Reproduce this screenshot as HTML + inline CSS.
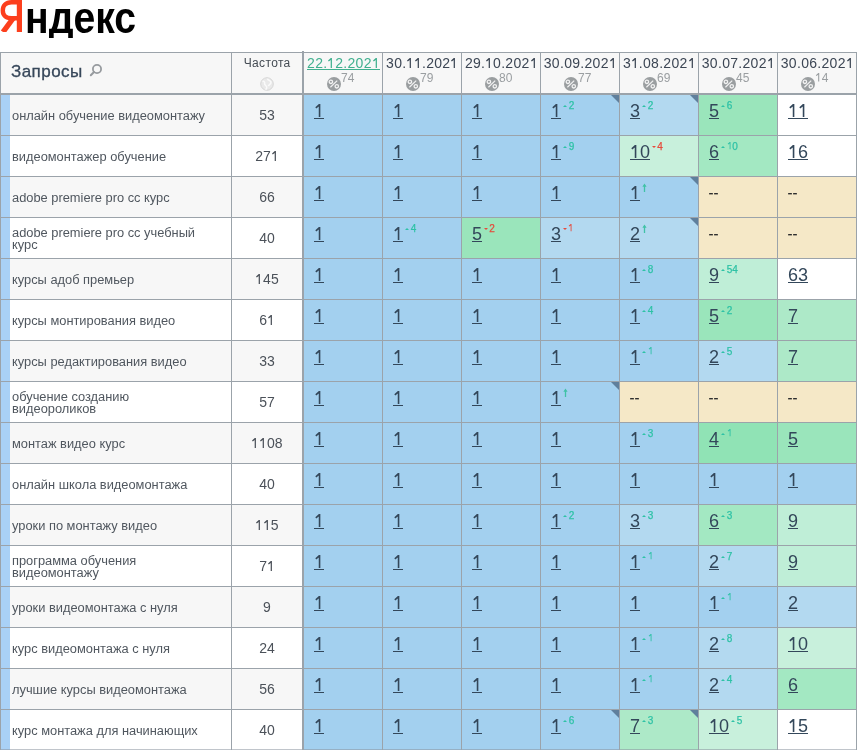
<!DOCTYPE html>
<html><head><meta charset="utf-8">
<style>
*{margin:0;padding:0;box-sizing:border-box}
html,body{width:857px;height:750px;overflow:hidden;background:#fff}
body{position:relative;font-family:"Liberation Sans",sans-serif;color:#3b4550}
#w{position:absolute;left:0;top:0;width:857px;height:750px;will-change:transform}
.a{position:absolute}
.logo{position:absolute;left:24.5px;top:-7.5px;height:45px;overflow:hidden;font-weight:bold;font-size:44px;line-height:50px;white-space:nowrap;color:#000}
.hl{position:absolute;background:#9ba3aa}
.q{position:absolute;left:12px;font-size:12.85px;line-height:11.5px;color:#50575f;white-space:nowrap}
.f{position:absolute;font-size:14px;line-height:16px;text-align:center;color:#4b5159}
.c{position:absolute}
.in{position:absolute;left:10px;top:6px;height:20px;white-space:nowrap;font-size:18px;line-height:20px}
.n{color:#33475a;position:relative;display:inline-block}
.n::after{content:"";position:absolute;left:0;right:0;top:17px;height:1px;background:currentColor}
.o{vertical-align:baseline;overflow:visible}
.du{color:#40b08f;position:relative;display:inline-block}
.du::after{content:"";position:absolute;left:0;right:0;top:14px;height:1px;background:currentColor}
.s{display:inline-block;vertical-align:top;position:relative;top:-0.4px;margin-left:2.3px;font-size:10px;-webkit-text-stroke:0.25px currentColor;line-height:10px}
.tu{display:inline-block;width:0;height:0;border-left:2px solid transparent;border-right:2px solid transparent;border-bottom:2.5px solid #2ec2a6;margin-right:1.4px;vertical-align:1.6px}
.td{display:inline-block;width:0;height:0;border-left:2px solid transparent;border-right:2px solid transparent;border-top:2.5px solid #e64b3c;margin-right:1px;vertical-align:1.4px}
.ar{display:inline-block;vertical-align:top;position:relative;top:0px;margin-left:2px}
.up{color:#2ec2a6}
.dn{color:#e64b3c}
.dash{position:absolute;left:9.5px;top:6px;font-size:15px;line-height:20px;color:#2e2e2e;-webkit-text-stroke:0.2px #2e2e2e}
.tri{position:absolute;right:0;top:0;width:0;height:0;border-top:8px solid #5f7f9c;border-left:8px solid transparent}
.dh{position:absolute;top:55px;font-size:14px;line-height:16px;color:#3c4654;text-align:center;white-space:nowrap;letter-spacing:0.3px;text-indent:0.3px}
.pc{position:absolute;width:14px;height:14px;border-radius:50%;background:#9a9ea0}
.ps{position:absolute;font-size:12px;line-height:12px;color:#9a9ea1}
</style></head><body><div id="w">

<svg class="a" style="left:0;top:0" width="23" height="32" viewBox="0 0 23 32"><rect x="16.8" y="0" width="5.2" height="32" fill="#fc3f1d"/><path d="M17.5 2.2H11.5C5.8 2.2 2.8 5.6 2.8 10.4C2.8 15.2 5.8 18.2 11.5 18.2H17.5" fill="none" stroke="#fc3f1d" stroke-width="4.4"/><path d="M13 18.5L3 32" stroke="#fc3f1d" stroke-width="5.4" stroke-linecap="butt"/></svg>
<div class="logo"><span style="display:inline-block;transform:scaleX(0.89);transform-origin:0 0">ндекс</span></div>
<div class="a" style="left:0;top:52px;width:857px;height:42px;background:#f7f7f7"></div>
<div class="a" style="left:0;top:95px;width:302px;height:40px;background:#f7f7f7"></div>
<div class="a" style="left:0;top:136px;width:302px;height:40px;background:#fff"></div>
<div class="a" style="left:0;top:177px;width:302px;height:40px;background:#f7f7f7"></div>
<div class="a" style="left:0;top:218px;width:302px;height:40px;background:#fff"></div>
<div class="a" style="left:0;top:259px;width:302px;height:40px;background:#f7f7f7"></div>
<div class="a" style="left:0;top:300px;width:302px;height:40px;background:#fff"></div>
<div class="a" style="left:0;top:341px;width:302px;height:40px;background:#f7f7f7"></div>
<div class="a" style="left:0;top:382px;width:302px;height:40px;background:#fff"></div>
<div class="a" style="left:0;top:423px;width:302px;height:40px;background:#f7f7f7"></div>
<div class="a" style="left:0;top:464px;width:302px;height:40px;background:#fff"></div>
<div class="a" style="left:0;top:505px;width:302px;height:40px;background:#f7f7f7"></div>
<div class="a" style="left:0;top:546px;width:302px;height:40px;background:#fff"></div>
<div class="a" style="left:0;top:587px;width:302px;height:40px;background:#f7f7f7"></div>
<div class="a" style="left:0;top:628px;width:302px;height:40px;background:#fff"></div>
<div class="a" style="left:0;top:669px;width:302px;height:40px;background:#f7f7f7"></div>
<div class="a" style="left:0;top:710px;width:302px;height:40px;background:#fff"></div>
<div class="c" style="left:304px;top:95px;width:78px;height:40px;background:#a3d0ef"><div class="in"><span class="n"><svg class="o" width="10.01" height="12.89" viewBox="0 0 10 12.9" preserveAspectRatio="none"><path d="M6.35 0V12.9H4.75V2.5L2.3 4.6L1.3 3.2L4.9 0Z" fill="currentColor"/></svg></span></div></div>
<div class="c" style="left:383px;top:95px;width:78px;height:40px;background:#a3d0ef"><div class="in"><span class="n"><svg class="o" width="10.01" height="12.89" viewBox="0 0 10 12.9" preserveAspectRatio="none"><path d="M6.35 0V12.9H4.75V2.5L2.3 4.6L1.3 3.2L4.9 0Z" fill="currentColor"/></svg></span></div></div>
<div class="c" style="left:462px;top:95px;width:78px;height:40px;background:#a3d0ef"><div class="in"><span class="n"><svg class="o" width="10.01" height="12.89" viewBox="0 0 10 12.9" preserveAspectRatio="none"><path d="M6.35 0V12.9H4.75V2.5L2.3 4.6L1.3 3.2L4.9 0Z" fill="currentColor"/></svg></span></div></div>
<div class="c" style="left:541px;top:95px;width:78px;height:40px;background:#a3d0ef"><div class="in"><span class="n"><svg class="o" width="10.01" height="12.89" viewBox="0 0 10 12.9" preserveAspectRatio="none"><path d="M6.35 0V12.9H4.75V2.5L2.3 4.6L1.3 3.2L4.9 0Z" fill="currentColor"/></svg></span><span class="s up"><i class="tu"></i>2</span></div><span class="tri"></span></div>
<div class="c" style="left:620px;top:95px;width:78px;height:40px;background:#b3d9f0"><div class="in"><span class="n">3</span><span class="s up"><i class="tu"></i>2</span></div><span class="tri"></span></div>
<div class="c" style="left:699px;top:95px;width:78px;height:40px;background:#9ae5bb"><div class="in"><span class="n">5</span><span class="s up"><i class="tu"></i>6</span></div></div>
<div class="c" style="left:778px;top:95px;width:78px;height:40px;background:#ffffff"><div class="in"><span class="n"><svg class="o" width="10.01" height="12.89" viewBox="0 0 10 12.9" preserveAspectRatio="none"><path d="M6.35 0V12.9H4.75V2.5L2.3 4.6L1.3 3.2L4.9 0Z" fill="currentColor"/></svg><svg class="o" width="10.01" height="12.89" viewBox="0 0 10 12.9" preserveAspectRatio="none"><path d="M6.35 0V12.9H4.75V2.5L2.3 4.6L1.3 3.2L4.9 0Z" fill="currentColor"/></svg></span></div></div>
<div class="q" style="top:109.5px">онлайн обучение видеомонтажу</div>
<div class="f" style="left:232px;width:70px;top:107px">53</div>
<div class="a" style="left:1px;top:95px;width:9px;height:40px;background:#a9d1f6"></div>
<div class="c" style="left:304px;top:136px;width:78px;height:40px;background:#a3d0ef"><div class="in"><span class="n"><svg class="o" width="10.01" height="12.89" viewBox="0 0 10 12.9" preserveAspectRatio="none"><path d="M6.35 0V12.9H4.75V2.5L2.3 4.6L1.3 3.2L4.9 0Z" fill="currentColor"/></svg></span></div></div>
<div class="c" style="left:383px;top:136px;width:78px;height:40px;background:#a3d0ef"><div class="in"><span class="n"><svg class="o" width="10.01" height="12.89" viewBox="0 0 10 12.9" preserveAspectRatio="none"><path d="M6.35 0V12.9H4.75V2.5L2.3 4.6L1.3 3.2L4.9 0Z" fill="currentColor"/></svg></span></div></div>
<div class="c" style="left:462px;top:136px;width:78px;height:40px;background:#a3d0ef"><div class="in"><span class="n"><svg class="o" width="10.01" height="12.89" viewBox="0 0 10 12.9" preserveAspectRatio="none"><path d="M6.35 0V12.9H4.75V2.5L2.3 4.6L1.3 3.2L4.9 0Z" fill="currentColor"/></svg></span></div></div>
<div class="c" style="left:541px;top:136px;width:78px;height:40px;background:#a3d0ef"><div class="in"><span class="n"><svg class="o" width="10.01" height="12.89" viewBox="0 0 10 12.9" preserveAspectRatio="none"><path d="M6.35 0V12.9H4.75V2.5L2.3 4.6L1.3 3.2L4.9 0Z" fill="currentColor"/></svg></span><span class="s up"><i class="tu"></i>9</span></div></div>
<div class="c" style="left:620px;top:136px;width:78px;height:40px;background:#c8f0dc"><div class="in"><span class="n"><svg class="o" width="10.01" height="12.89" viewBox="0 0 10 12.9" preserveAspectRatio="none"><path d="M6.35 0V12.9H4.75V2.5L2.3 4.6L1.3 3.2L4.9 0Z" fill="currentColor"/></svg>0</span><span class="s dn"><i class="td"></i>4</span></div></div>
<div class="c" style="left:699px;top:136px;width:78px;height:40px;background:#a3e8c2"><div class="in"><span class="n">6</span><span class="s up"><i class="tu"></i><svg class="o" width="5.56" height="7.16" viewBox="0 0 10 12.9" preserveAspectRatio="none"><path d="M6.35 0V12.9H4.75V2.5L2.3 4.6L1.3 3.2L4.9 0Z" fill="currentColor"/></svg>0</span></div></div>
<div class="c" style="left:778px;top:136px;width:78px;height:40px;background:#ffffff"><div class="in"><span class="n"><svg class="o" width="10.01" height="12.89" viewBox="0 0 10 12.9" preserveAspectRatio="none"><path d="M6.35 0V12.9H4.75V2.5L2.3 4.6L1.3 3.2L4.9 0Z" fill="currentColor"/></svg>6</span></div></div>
<div class="q" style="top:150.5px">видеомонтажер обучение</div>
<div class="f" style="left:232px;width:70px;top:148px">27<svg class="o" width="7.78" height="10.02" viewBox="0 0 10 12.9" preserveAspectRatio="none"><path d="M6.35 0V12.9H4.75V2.5L2.3 4.6L1.3 3.2L4.9 0Z" fill="currentColor"/></svg></div>
<div class="a" style="left:1px;top:136px;width:9px;height:40px;background:#a9d1f6"></div>
<div class="c" style="left:304px;top:177px;width:78px;height:40px;background:#a3d0ef"><div class="in"><span class="n"><svg class="o" width="10.01" height="12.89" viewBox="0 0 10 12.9" preserveAspectRatio="none"><path d="M6.35 0V12.9H4.75V2.5L2.3 4.6L1.3 3.2L4.9 0Z" fill="currentColor"/></svg></span></div></div>
<div class="c" style="left:383px;top:177px;width:78px;height:40px;background:#a3d0ef"><div class="in"><span class="n"><svg class="o" width="10.01" height="12.89" viewBox="0 0 10 12.9" preserveAspectRatio="none"><path d="M6.35 0V12.9H4.75V2.5L2.3 4.6L1.3 3.2L4.9 0Z" fill="currentColor"/></svg></span></div></div>
<div class="c" style="left:462px;top:177px;width:78px;height:40px;background:#a3d0ef"><div class="in"><span class="n"><svg class="o" width="10.01" height="12.89" viewBox="0 0 10 12.9" preserveAspectRatio="none"><path d="M6.35 0V12.9H4.75V2.5L2.3 4.6L1.3 3.2L4.9 0Z" fill="currentColor"/></svg></span></div></div>
<div class="c" style="left:541px;top:177px;width:78px;height:40px;background:#a3d0ef"><div class="in"><span class="n"><svg class="o" width="10.01" height="12.89" viewBox="0 0 10 12.9" preserveAspectRatio="none"><path d="M6.35 0V12.9H4.75V2.5L2.3 4.6L1.3 3.2L4.9 0Z" fill="currentColor"/></svg></span></div></div>
<div class="c" style="left:620px;top:177px;width:78px;height:40px;background:#a3d0ef"><div class="in"><span class="n"><svg class="o" width="10.01" height="12.89" viewBox="0 0 10 12.9" preserveAspectRatio="none"><path d="M6.35 0V12.9H4.75V2.5L2.3 4.6L1.3 3.2L4.9 0Z" fill="currentColor"/></svg></span><svg class="ar" width="5" height="9" viewBox="0 0 5 9"><path d="M2.5 2V9" stroke="#40c2a6" stroke-width="1.3"/><path d="M0.4 3.8L2.5 0.6L4.6 3.8Z" fill="#40c2a6"/></svg></div><span class="tri"></span></div>
<div class="c" style="left:699px;top:177px;width:78px;height:40px;background:#f5e8c7"><span class="dash">--</span></div>
<div class="c" style="left:778px;top:177px;width:78px;height:40px;background:#f5e8c7"><span class="dash">--</span></div>
<div class="q" style="top:191.5px">adobe premiere pro cc курс</div>
<div class="f" style="left:232px;width:70px;top:189px">66</div>
<div class="a" style="left:1px;top:177px;width:9px;height:40px;background:#a9d1f6"></div>
<div class="c" style="left:304px;top:218px;width:78px;height:40px;background:#a3d0ef"><div class="in"><span class="n"><svg class="o" width="10.01" height="12.89" viewBox="0 0 10 12.9" preserveAspectRatio="none"><path d="M6.35 0V12.9H4.75V2.5L2.3 4.6L1.3 3.2L4.9 0Z" fill="currentColor"/></svg></span></div></div>
<div class="c" style="left:383px;top:218px;width:78px;height:40px;background:#a3d0ef"><div class="in"><span class="n"><svg class="o" width="10.01" height="12.89" viewBox="0 0 10 12.9" preserveAspectRatio="none"><path d="M6.35 0V12.9H4.75V2.5L2.3 4.6L1.3 3.2L4.9 0Z" fill="currentColor"/></svg></span><span class="s up"><i class="tu"></i>4</span></div></div>
<div class="c" style="left:462px;top:218px;width:78px;height:40px;background:#9ae5bb"><div class="in"><span class="n">5</span><span class="s dn"><i class="td"></i>2</span></div></div>
<div class="c" style="left:541px;top:218px;width:78px;height:40px;background:#b3d9f0"><div class="in"><span class="n">3</span><span class="s dn"><i class="td"></i><svg class="o" width="5.56" height="7.16" viewBox="0 0 10 12.9" preserveAspectRatio="none"><path d="M6.35 0V12.9H4.75V2.5L2.3 4.6L1.3 3.2L4.9 0Z" fill="currentColor"/></svg></span></div></div>
<div class="c" style="left:620px;top:218px;width:78px;height:40px;background:#b3d9f0"><div class="in"><span class="n">2</span><svg class="ar" width="5" height="9" viewBox="0 0 5 9"><path d="M2.5 2V9" stroke="#40c2a6" stroke-width="1.3"/><path d="M0.4 3.8L2.5 0.6L4.6 3.8Z" fill="#40c2a6"/></svg></div><span class="tri"></span></div>
<div class="c" style="left:699px;top:218px;width:78px;height:40px;background:#f5e8c7"><span class="dash">--</span></div>
<div class="c" style="left:778px;top:218px;width:78px;height:40px;background:#f5e8c7"><span class="dash">--</span></div>
<div class="q" style="top:227.3px">adobe premiere pro cc учебный<br>курс</div>
<div class="f" style="left:232px;width:70px;top:230px">40</div>
<div class="a" style="left:1px;top:218px;width:9px;height:40px;background:#a9d1f6"></div>
<div class="c" style="left:304px;top:259px;width:78px;height:40px;background:#a3d0ef"><div class="in"><span class="n"><svg class="o" width="10.01" height="12.89" viewBox="0 0 10 12.9" preserveAspectRatio="none"><path d="M6.35 0V12.9H4.75V2.5L2.3 4.6L1.3 3.2L4.9 0Z" fill="currentColor"/></svg></span></div></div>
<div class="c" style="left:383px;top:259px;width:78px;height:40px;background:#a3d0ef"><div class="in"><span class="n"><svg class="o" width="10.01" height="12.89" viewBox="0 0 10 12.9" preserveAspectRatio="none"><path d="M6.35 0V12.9H4.75V2.5L2.3 4.6L1.3 3.2L4.9 0Z" fill="currentColor"/></svg></span></div></div>
<div class="c" style="left:462px;top:259px;width:78px;height:40px;background:#a3d0ef"><div class="in"><span class="n"><svg class="o" width="10.01" height="12.89" viewBox="0 0 10 12.9" preserveAspectRatio="none"><path d="M6.35 0V12.9H4.75V2.5L2.3 4.6L1.3 3.2L4.9 0Z" fill="currentColor"/></svg></span></div></div>
<div class="c" style="left:541px;top:259px;width:78px;height:40px;background:#a3d0ef"><div class="in"><span class="n"><svg class="o" width="10.01" height="12.89" viewBox="0 0 10 12.9" preserveAspectRatio="none"><path d="M6.35 0V12.9H4.75V2.5L2.3 4.6L1.3 3.2L4.9 0Z" fill="currentColor"/></svg></span></div></div>
<div class="c" style="left:620px;top:259px;width:78px;height:40px;background:#a3d0ef"><div class="in"><span class="n"><svg class="o" width="10.01" height="12.89" viewBox="0 0 10 12.9" preserveAspectRatio="none"><path d="M6.35 0V12.9H4.75V2.5L2.3 4.6L1.3 3.2L4.9 0Z" fill="currentColor"/></svg></span><span class="s up"><i class="tu"></i>8</span></div></div>
<div class="c" style="left:699px;top:259px;width:78px;height:40px;background:#bfeed7"><div class="in"><span class="n">9</span><span class="s up"><i class="tu"></i>54</span></div></div>
<div class="c" style="left:778px;top:259px;width:78px;height:40px;background:#ffffff"><div class="in"><span class="n">63</span></div></div>
<div class="q" style="top:273.5px">курсы адоб премьер</div>
<div class="f" style="left:232px;width:70px;top:271px"><svg class="o" width="7.78" height="10.02" viewBox="0 0 10 12.9" preserveAspectRatio="none"><path d="M6.35 0V12.9H4.75V2.5L2.3 4.6L1.3 3.2L4.9 0Z" fill="currentColor"/></svg>45</div>
<div class="a" style="left:1px;top:259px;width:9px;height:40px;background:#a9d1f6"></div>
<div class="c" style="left:304px;top:300px;width:78px;height:40px;background:#a3d0ef"><div class="in"><span class="n"><svg class="o" width="10.01" height="12.89" viewBox="0 0 10 12.9" preserveAspectRatio="none"><path d="M6.35 0V12.9H4.75V2.5L2.3 4.6L1.3 3.2L4.9 0Z" fill="currentColor"/></svg></span></div></div>
<div class="c" style="left:383px;top:300px;width:78px;height:40px;background:#a3d0ef"><div class="in"><span class="n"><svg class="o" width="10.01" height="12.89" viewBox="0 0 10 12.9" preserveAspectRatio="none"><path d="M6.35 0V12.9H4.75V2.5L2.3 4.6L1.3 3.2L4.9 0Z" fill="currentColor"/></svg></span></div></div>
<div class="c" style="left:462px;top:300px;width:78px;height:40px;background:#a3d0ef"><div class="in"><span class="n"><svg class="o" width="10.01" height="12.89" viewBox="0 0 10 12.9" preserveAspectRatio="none"><path d="M6.35 0V12.9H4.75V2.5L2.3 4.6L1.3 3.2L4.9 0Z" fill="currentColor"/></svg></span></div></div>
<div class="c" style="left:541px;top:300px;width:78px;height:40px;background:#a3d0ef"><div class="in"><span class="n"><svg class="o" width="10.01" height="12.89" viewBox="0 0 10 12.9" preserveAspectRatio="none"><path d="M6.35 0V12.9H4.75V2.5L2.3 4.6L1.3 3.2L4.9 0Z" fill="currentColor"/></svg></span></div></div>
<div class="c" style="left:620px;top:300px;width:78px;height:40px;background:#a3d0ef"><div class="in"><span class="n"><svg class="o" width="10.01" height="12.89" viewBox="0 0 10 12.9" preserveAspectRatio="none"><path d="M6.35 0V12.9H4.75V2.5L2.3 4.6L1.3 3.2L4.9 0Z" fill="currentColor"/></svg></span><span class="s up"><i class="tu"></i>4</span></div></div>
<div class="c" style="left:699px;top:300px;width:78px;height:40px;background:#9ae5bb"><div class="in"><span class="n">5</span><span class="s up"><i class="tu"></i>2</span></div></div>
<div class="c" style="left:778px;top:300px;width:78px;height:40px;background:#ade9c8"><div class="in"><span class="n">7</span></div></div>
<div class="q" style="top:314.5px">курсы монтирования видео</div>
<div class="f" style="left:232px;width:70px;top:312px">6<svg class="o" width="7.78" height="10.02" viewBox="0 0 10 12.9" preserveAspectRatio="none"><path d="M6.35 0V12.9H4.75V2.5L2.3 4.6L1.3 3.2L4.9 0Z" fill="currentColor"/></svg></div>
<div class="a" style="left:1px;top:300px;width:9px;height:40px;background:#a9d1f6"></div>
<div class="c" style="left:304px;top:341px;width:78px;height:40px;background:#a3d0ef"><div class="in"><span class="n"><svg class="o" width="10.01" height="12.89" viewBox="0 0 10 12.9" preserveAspectRatio="none"><path d="M6.35 0V12.9H4.75V2.5L2.3 4.6L1.3 3.2L4.9 0Z" fill="currentColor"/></svg></span></div></div>
<div class="c" style="left:383px;top:341px;width:78px;height:40px;background:#a3d0ef"><div class="in"><span class="n"><svg class="o" width="10.01" height="12.89" viewBox="0 0 10 12.9" preserveAspectRatio="none"><path d="M6.35 0V12.9H4.75V2.5L2.3 4.6L1.3 3.2L4.9 0Z" fill="currentColor"/></svg></span></div></div>
<div class="c" style="left:462px;top:341px;width:78px;height:40px;background:#a3d0ef"><div class="in"><span class="n"><svg class="o" width="10.01" height="12.89" viewBox="0 0 10 12.9" preserveAspectRatio="none"><path d="M6.35 0V12.9H4.75V2.5L2.3 4.6L1.3 3.2L4.9 0Z" fill="currentColor"/></svg></span></div></div>
<div class="c" style="left:541px;top:341px;width:78px;height:40px;background:#a3d0ef"><div class="in"><span class="n"><svg class="o" width="10.01" height="12.89" viewBox="0 0 10 12.9" preserveAspectRatio="none"><path d="M6.35 0V12.9H4.75V2.5L2.3 4.6L1.3 3.2L4.9 0Z" fill="currentColor"/></svg></span></div></div>
<div class="c" style="left:620px;top:341px;width:78px;height:40px;background:#a3d0ef"><div class="in"><span class="n"><svg class="o" width="10.01" height="12.89" viewBox="0 0 10 12.9" preserveAspectRatio="none"><path d="M6.35 0V12.9H4.75V2.5L2.3 4.6L1.3 3.2L4.9 0Z" fill="currentColor"/></svg></span><span class="s up"><i class="tu"></i><svg class="o" width="5.56" height="7.16" viewBox="0 0 10 12.9" preserveAspectRatio="none"><path d="M6.35 0V12.9H4.75V2.5L2.3 4.6L1.3 3.2L4.9 0Z" fill="currentColor"/></svg></span></div></div>
<div class="c" style="left:699px;top:341px;width:78px;height:40px;background:#b3d9f0"><div class="in"><span class="n">2</span><span class="s up"><i class="tu"></i>5</span></div></div>
<div class="c" style="left:778px;top:341px;width:78px;height:40px;background:#ade9c8"><div class="in"><span class="n">7</span></div></div>
<div class="q" style="top:355.5px">курсы редактирования видео</div>
<div class="f" style="left:232px;width:70px;top:353px">33</div>
<div class="a" style="left:1px;top:341px;width:9px;height:40px;background:#a9d1f6"></div>
<div class="c" style="left:304px;top:382px;width:78px;height:40px;background:#a3d0ef"><div class="in"><span class="n"><svg class="o" width="10.01" height="12.89" viewBox="0 0 10 12.9" preserveAspectRatio="none"><path d="M6.35 0V12.9H4.75V2.5L2.3 4.6L1.3 3.2L4.9 0Z" fill="currentColor"/></svg></span></div></div>
<div class="c" style="left:383px;top:382px;width:78px;height:40px;background:#a3d0ef"><div class="in"><span class="n"><svg class="o" width="10.01" height="12.89" viewBox="0 0 10 12.9" preserveAspectRatio="none"><path d="M6.35 0V12.9H4.75V2.5L2.3 4.6L1.3 3.2L4.9 0Z" fill="currentColor"/></svg></span></div></div>
<div class="c" style="left:462px;top:382px;width:78px;height:40px;background:#a3d0ef"><div class="in"><span class="n"><svg class="o" width="10.01" height="12.89" viewBox="0 0 10 12.9" preserveAspectRatio="none"><path d="M6.35 0V12.9H4.75V2.5L2.3 4.6L1.3 3.2L4.9 0Z" fill="currentColor"/></svg></span></div></div>
<div class="c" style="left:541px;top:382px;width:78px;height:40px;background:#a3d0ef"><div class="in"><span class="n"><svg class="o" width="10.01" height="12.89" viewBox="0 0 10 12.9" preserveAspectRatio="none"><path d="M6.35 0V12.9H4.75V2.5L2.3 4.6L1.3 3.2L4.9 0Z" fill="currentColor"/></svg></span><svg class="ar" width="5" height="9" viewBox="0 0 5 9"><path d="M2.5 2V9" stroke="#40c2a6" stroke-width="1.3"/><path d="M0.4 3.8L2.5 0.6L4.6 3.8Z" fill="#40c2a6"/></svg></div><span class="tri"></span></div>
<div class="c" style="left:620px;top:382px;width:78px;height:40px;background:#f5e8c7"><span class="dash">--</span></div>
<div class="c" style="left:699px;top:382px;width:78px;height:40px;background:#f5e8c7"><span class="dash">--</span></div>
<div class="c" style="left:778px;top:382px;width:78px;height:40px;background:#f5e8c7"><span class="dash">--</span></div>
<div class="q" style="top:391.3px">обучение созданию<br>видеороликов</div>
<div class="f" style="left:232px;width:70px;top:394px">57</div>
<div class="a" style="left:1px;top:382px;width:9px;height:40px;background:#a9d1f6"></div>
<div class="c" style="left:304px;top:423px;width:78px;height:40px;background:#a3d0ef"><div class="in"><span class="n"><svg class="o" width="10.01" height="12.89" viewBox="0 0 10 12.9" preserveAspectRatio="none"><path d="M6.35 0V12.9H4.75V2.5L2.3 4.6L1.3 3.2L4.9 0Z" fill="currentColor"/></svg></span></div></div>
<div class="c" style="left:383px;top:423px;width:78px;height:40px;background:#a3d0ef"><div class="in"><span class="n"><svg class="o" width="10.01" height="12.89" viewBox="0 0 10 12.9" preserveAspectRatio="none"><path d="M6.35 0V12.9H4.75V2.5L2.3 4.6L1.3 3.2L4.9 0Z" fill="currentColor"/></svg></span></div></div>
<div class="c" style="left:462px;top:423px;width:78px;height:40px;background:#a3d0ef"><div class="in"><span class="n"><svg class="o" width="10.01" height="12.89" viewBox="0 0 10 12.9" preserveAspectRatio="none"><path d="M6.35 0V12.9H4.75V2.5L2.3 4.6L1.3 3.2L4.9 0Z" fill="currentColor"/></svg></span></div></div>
<div class="c" style="left:541px;top:423px;width:78px;height:40px;background:#a3d0ef"><div class="in"><span class="n"><svg class="o" width="10.01" height="12.89" viewBox="0 0 10 12.9" preserveAspectRatio="none"><path d="M6.35 0V12.9H4.75V2.5L2.3 4.6L1.3 3.2L4.9 0Z" fill="currentColor"/></svg></span></div></div>
<div class="c" style="left:620px;top:423px;width:78px;height:40px;background:#a3d0ef"><div class="in"><span class="n"><svg class="o" width="10.01" height="12.89" viewBox="0 0 10 12.9" preserveAspectRatio="none"><path d="M6.35 0V12.9H4.75V2.5L2.3 4.6L1.3 3.2L4.9 0Z" fill="currentColor"/></svg></span><span class="s up"><i class="tu"></i>3</span></div></div>
<div class="c" style="left:699px;top:423px;width:78px;height:40px;background:#90e3b5"><div class="in"><span class="n">4</span><span class="s up"><i class="tu"></i><svg class="o" width="5.56" height="7.16" viewBox="0 0 10 12.9" preserveAspectRatio="none"><path d="M6.35 0V12.9H4.75V2.5L2.3 4.6L1.3 3.2L4.9 0Z" fill="currentColor"/></svg></span></div></div>
<div class="c" style="left:778px;top:423px;width:78px;height:40px;background:#9ae5bb"><div class="in"><span class="n">5</span></div></div>
<div class="q" style="top:437.5px">монтаж видео курс</div>
<div class="f" style="left:232px;width:70px;top:435px"><svg class="o" width="7.78" height="10.02" viewBox="0 0 10 12.9" preserveAspectRatio="none"><path d="M6.35 0V12.9H4.75V2.5L2.3 4.6L1.3 3.2L4.9 0Z" fill="currentColor"/></svg><svg class="o" width="7.78" height="10.02" viewBox="0 0 10 12.9" preserveAspectRatio="none"><path d="M6.35 0V12.9H4.75V2.5L2.3 4.6L1.3 3.2L4.9 0Z" fill="currentColor"/></svg>08</div>
<div class="a" style="left:1px;top:423px;width:9px;height:40px;background:#a9d1f6"></div>
<div class="c" style="left:304px;top:464px;width:78px;height:40px;background:#a3d0ef"><div class="in"><span class="n"><svg class="o" width="10.01" height="12.89" viewBox="0 0 10 12.9" preserveAspectRatio="none"><path d="M6.35 0V12.9H4.75V2.5L2.3 4.6L1.3 3.2L4.9 0Z" fill="currentColor"/></svg></span></div></div>
<div class="c" style="left:383px;top:464px;width:78px;height:40px;background:#a3d0ef"><div class="in"><span class="n"><svg class="o" width="10.01" height="12.89" viewBox="0 0 10 12.9" preserveAspectRatio="none"><path d="M6.35 0V12.9H4.75V2.5L2.3 4.6L1.3 3.2L4.9 0Z" fill="currentColor"/></svg></span></div></div>
<div class="c" style="left:462px;top:464px;width:78px;height:40px;background:#a3d0ef"><div class="in"><span class="n"><svg class="o" width="10.01" height="12.89" viewBox="0 0 10 12.9" preserveAspectRatio="none"><path d="M6.35 0V12.9H4.75V2.5L2.3 4.6L1.3 3.2L4.9 0Z" fill="currentColor"/></svg></span></div></div>
<div class="c" style="left:541px;top:464px;width:78px;height:40px;background:#a3d0ef"><div class="in"><span class="n"><svg class="o" width="10.01" height="12.89" viewBox="0 0 10 12.9" preserveAspectRatio="none"><path d="M6.35 0V12.9H4.75V2.5L2.3 4.6L1.3 3.2L4.9 0Z" fill="currentColor"/></svg></span></div></div>
<div class="c" style="left:620px;top:464px;width:78px;height:40px;background:#a3d0ef"><div class="in"><span class="n"><svg class="o" width="10.01" height="12.89" viewBox="0 0 10 12.9" preserveAspectRatio="none"><path d="M6.35 0V12.9H4.75V2.5L2.3 4.6L1.3 3.2L4.9 0Z" fill="currentColor"/></svg></span></div></div>
<div class="c" style="left:699px;top:464px;width:78px;height:40px;background:#a3d0ef"><div class="in"><span class="n"><svg class="o" width="10.01" height="12.89" viewBox="0 0 10 12.9" preserveAspectRatio="none"><path d="M6.35 0V12.9H4.75V2.5L2.3 4.6L1.3 3.2L4.9 0Z" fill="currentColor"/></svg></span></div></div>
<div class="c" style="left:778px;top:464px;width:78px;height:40px;background:#a3d0ef"><div class="in"><span class="n"><svg class="o" width="10.01" height="12.89" viewBox="0 0 10 12.9" preserveAspectRatio="none"><path d="M6.35 0V12.9H4.75V2.5L2.3 4.6L1.3 3.2L4.9 0Z" fill="currentColor"/></svg></span></div></div>
<div class="q" style="top:478.5px">онлайн школа видеомонтажа</div>
<div class="f" style="left:232px;width:70px;top:476px">40</div>
<div class="a" style="left:1px;top:464px;width:9px;height:40px;background:#a9d1f6"></div>
<div class="c" style="left:304px;top:505px;width:78px;height:40px;background:#a3d0ef"><div class="in"><span class="n"><svg class="o" width="10.01" height="12.89" viewBox="0 0 10 12.9" preserveAspectRatio="none"><path d="M6.35 0V12.9H4.75V2.5L2.3 4.6L1.3 3.2L4.9 0Z" fill="currentColor"/></svg></span></div></div>
<div class="c" style="left:383px;top:505px;width:78px;height:40px;background:#a3d0ef"><div class="in"><span class="n"><svg class="o" width="10.01" height="12.89" viewBox="0 0 10 12.9" preserveAspectRatio="none"><path d="M6.35 0V12.9H4.75V2.5L2.3 4.6L1.3 3.2L4.9 0Z" fill="currentColor"/></svg></span></div></div>
<div class="c" style="left:462px;top:505px;width:78px;height:40px;background:#a3d0ef"><div class="in"><span class="n"><svg class="o" width="10.01" height="12.89" viewBox="0 0 10 12.9" preserveAspectRatio="none"><path d="M6.35 0V12.9H4.75V2.5L2.3 4.6L1.3 3.2L4.9 0Z" fill="currentColor"/></svg></span></div></div>
<div class="c" style="left:541px;top:505px;width:78px;height:40px;background:#a3d0ef"><div class="in"><span class="n"><svg class="o" width="10.01" height="12.89" viewBox="0 0 10 12.9" preserveAspectRatio="none"><path d="M6.35 0V12.9H4.75V2.5L2.3 4.6L1.3 3.2L4.9 0Z" fill="currentColor"/></svg></span><span class="s up"><i class="tu"></i>2</span></div></div>
<div class="c" style="left:620px;top:505px;width:78px;height:40px;background:#b3d9f0"><div class="in"><span class="n">3</span><span class="s up"><i class="tu"></i>3</span></div></div>
<div class="c" style="left:699px;top:505px;width:78px;height:40px;background:#a3e8c2"><div class="in"><span class="n">6</span><span class="s up"><i class="tu"></i>3</span></div></div>
<div class="c" style="left:778px;top:505px;width:78px;height:40px;background:#bfeed7"><div class="in"><span class="n">9</span></div></div>
<div class="q" style="top:519.5px">уроки по монтажу видео</div>
<div class="f" style="left:232px;width:70px;top:517px"><svg class="o" width="7.78" height="10.02" viewBox="0 0 10 12.9" preserveAspectRatio="none"><path d="M6.35 0V12.9H4.75V2.5L2.3 4.6L1.3 3.2L4.9 0Z" fill="currentColor"/></svg><svg class="o" width="7.78" height="10.02" viewBox="0 0 10 12.9" preserveAspectRatio="none"><path d="M6.35 0V12.9H4.75V2.5L2.3 4.6L1.3 3.2L4.9 0Z" fill="currentColor"/></svg>5</div>
<div class="a" style="left:1px;top:505px;width:9px;height:40px;background:#a9d1f6"></div>
<div class="c" style="left:304px;top:546px;width:78px;height:40px;background:#a3d0ef"><div class="in"><span class="n"><svg class="o" width="10.01" height="12.89" viewBox="0 0 10 12.9" preserveAspectRatio="none"><path d="M6.35 0V12.9H4.75V2.5L2.3 4.6L1.3 3.2L4.9 0Z" fill="currentColor"/></svg></span></div></div>
<div class="c" style="left:383px;top:546px;width:78px;height:40px;background:#a3d0ef"><div class="in"><span class="n"><svg class="o" width="10.01" height="12.89" viewBox="0 0 10 12.9" preserveAspectRatio="none"><path d="M6.35 0V12.9H4.75V2.5L2.3 4.6L1.3 3.2L4.9 0Z" fill="currentColor"/></svg></span></div></div>
<div class="c" style="left:462px;top:546px;width:78px;height:40px;background:#a3d0ef"><div class="in"><span class="n"><svg class="o" width="10.01" height="12.89" viewBox="0 0 10 12.9" preserveAspectRatio="none"><path d="M6.35 0V12.9H4.75V2.5L2.3 4.6L1.3 3.2L4.9 0Z" fill="currentColor"/></svg></span></div></div>
<div class="c" style="left:541px;top:546px;width:78px;height:40px;background:#a3d0ef"><div class="in"><span class="n"><svg class="o" width="10.01" height="12.89" viewBox="0 0 10 12.9" preserveAspectRatio="none"><path d="M6.35 0V12.9H4.75V2.5L2.3 4.6L1.3 3.2L4.9 0Z" fill="currentColor"/></svg></span></div></div>
<div class="c" style="left:620px;top:546px;width:78px;height:40px;background:#a3d0ef"><div class="in"><span class="n"><svg class="o" width="10.01" height="12.89" viewBox="0 0 10 12.9" preserveAspectRatio="none"><path d="M6.35 0V12.9H4.75V2.5L2.3 4.6L1.3 3.2L4.9 0Z" fill="currentColor"/></svg></span><span class="s up"><i class="tu"></i><svg class="o" width="5.56" height="7.16" viewBox="0 0 10 12.9" preserveAspectRatio="none"><path d="M6.35 0V12.9H4.75V2.5L2.3 4.6L1.3 3.2L4.9 0Z" fill="currentColor"/></svg></span></div></div>
<div class="c" style="left:699px;top:546px;width:78px;height:40px;background:#b3d9f0"><div class="in"><span class="n">2</span><span class="s up"><i class="tu"></i>7</span></div></div>
<div class="c" style="left:778px;top:546px;width:78px;height:40px;background:#bfeed7"><div class="in"><span class="n">9</span></div></div>
<div class="q" style="top:555.3px">программа обучения<br>видеомонтажу</div>
<div class="f" style="left:232px;width:70px;top:558px">7<svg class="o" width="7.78" height="10.02" viewBox="0 0 10 12.9" preserveAspectRatio="none"><path d="M6.35 0V12.9H4.75V2.5L2.3 4.6L1.3 3.2L4.9 0Z" fill="currentColor"/></svg></div>
<div class="a" style="left:1px;top:546px;width:9px;height:40px;background:#a9d1f6"></div>
<div class="c" style="left:304px;top:587px;width:78px;height:40px;background:#a3d0ef"><div class="in"><span class="n"><svg class="o" width="10.01" height="12.89" viewBox="0 0 10 12.9" preserveAspectRatio="none"><path d="M6.35 0V12.9H4.75V2.5L2.3 4.6L1.3 3.2L4.9 0Z" fill="currentColor"/></svg></span></div></div>
<div class="c" style="left:383px;top:587px;width:78px;height:40px;background:#a3d0ef"><div class="in"><span class="n"><svg class="o" width="10.01" height="12.89" viewBox="0 0 10 12.9" preserveAspectRatio="none"><path d="M6.35 0V12.9H4.75V2.5L2.3 4.6L1.3 3.2L4.9 0Z" fill="currentColor"/></svg></span></div></div>
<div class="c" style="left:462px;top:587px;width:78px;height:40px;background:#a3d0ef"><div class="in"><span class="n"><svg class="o" width="10.01" height="12.89" viewBox="0 0 10 12.9" preserveAspectRatio="none"><path d="M6.35 0V12.9H4.75V2.5L2.3 4.6L1.3 3.2L4.9 0Z" fill="currentColor"/></svg></span></div></div>
<div class="c" style="left:541px;top:587px;width:78px;height:40px;background:#a3d0ef"><div class="in"><span class="n"><svg class="o" width="10.01" height="12.89" viewBox="0 0 10 12.9" preserveAspectRatio="none"><path d="M6.35 0V12.9H4.75V2.5L2.3 4.6L1.3 3.2L4.9 0Z" fill="currentColor"/></svg></span></div></div>
<div class="c" style="left:620px;top:587px;width:78px;height:40px;background:#a3d0ef"><div class="in"><span class="n"><svg class="o" width="10.01" height="12.89" viewBox="0 0 10 12.9" preserveAspectRatio="none"><path d="M6.35 0V12.9H4.75V2.5L2.3 4.6L1.3 3.2L4.9 0Z" fill="currentColor"/></svg></span></div></div>
<div class="c" style="left:699px;top:587px;width:78px;height:40px;background:#a3d0ef"><div class="in"><span class="n"><svg class="o" width="10.01" height="12.89" viewBox="0 0 10 12.9" preserveAspectRatio="none"><path d="M6.35 0V12.9H4.75V2.5L2.3 4.6L1.3 3.2L4.9 0Z" fill="currentColor"/></svg></span><span class="s up"><i class="tu"></i><svg class="o" width="5.56" height="7.16" viewBox="0 0 10 12.9" preserveAspectRatio="none"><path d="M6.35 0V12.9H4.75V2.5L2.3 4.6L1.3 3.2L4.9 0Z" fill="currentColor"/></svg></span></div></div>
<div class="c" style="left:778px;top:587px;width:78px;height:40px;background:#b3d9f0"><div class="in"><span class="n">2</span></div></div>
<div class="q" style="top:601.5px">уроки видеомонтажа с нуля</div>
<div class="f" style="left:232px;width:70px;top:599px">9</div>
<div class="a" style="left:1px;top:587px;width:9px;height:40px;background:#a9d1f6"></div>
<div class="c" style="left:304px;top:628px;width:78px;height:40px;background:#a3d0ef"><div class="in"><span class="n"><svg class="o" width="10.01" height="12.89" viewBox="0 0 10 12.9" preserveAspectRatio="none"><path d="M6.35 0V12.9H4.75V2.5L2.3 4.6L1.3 3.2L4.9 0Z" fill="currentColor"/></svg></span></div></div>
<div class="c" style="left:383px;top:628px;width:78px;height:40px;background:#a3d0ef"><div class="in"><span class="n"><svg class="o" width="10.01" height="12.89" viewBox="0 0 10 12.9" preserveAspectRatio="none"><path d="M6.35 0V12.9H4.75V2.5L2.3 4.6L1.3 3.2L4.9 0Z" fill="currentColor"/></svg></span></div></div>
<div class="c" style="left:462px;top:628px;width:78px;height:40px;background:#a3d0ef"><div class="in"><span class="n"><svg class="o" width="10.01" height="12.89" viewBox="0 0 10 12.9" preserveAspectRatio="none"><path d="M6.35 0V12.9H4.75V2.5L2.3 4.6L1.3 3.2L4.9 0Z" fill="currentColor"/></svg></span></div></div>
<div class="c" style="left:541px;top:628px;width:78px;height:40px;background:#a3d0ef"><div class="in"><span class="n"><svg class="o" width="10.01" height="12.89" viewBox="0 0 10 12.9" preserveAspectRatio="none"><path d="M6.35 0V12.9H4.75V2.5L2.3 4.6L1.3 3.2L4.9 0Z" fill="currentColor"/></svg></span></div></div>
<div class="c" style="left:620px;top:628px;width:78px;height:40px;background:#a3d0ef"><div class="in"><span class="n"><svg class="o" width="10.01" height="12.89" viewBox="0 0 10 12.9" preserveAspectRatio="none"><path d="M6.35 0V12.9H4.75V2.5L2.3 4.6L1.3 3.2L4.9 0Z" fill="currentColor"/></svg></span><span class="s up"><i class="tu"></i><svg class="o" width="5.56" height="7.16" viewBox="0 0 10 12.9" preserveAspectRatio="none"><path d="M6.35 0V12.9H4.75V2.5L2.3 4.6L1.3 3.2L4.9 0Z" fill="currentColor"/></svg></span></div></div>
<div class="c" style="left:699px;top:628px;width:78px;height:40px;background:#b3d9f0"><div class="in"><span class="n">2</span><span class="s up"><i class="tu"></i>8</span></div></div>
<div class="c" style="left:778px;top:628px;width:78px;height:40px;background:#c8f0dc"><div class="in"><span class="n"><svg class="o" width="10.01" height="12.89" viewBox="0 0 10 12.9" preserveAspectRatio="none"><path d="M6.35 0V12.9H4.75V2.5L2.3 4.6L1.3 3.2L4.9 0Z" fill="currentColor"/></svg>0</span></div></div>
<div class="q" style="top:642.5px">курс видеомонтажа с нуля</div>
<div class="f" style="left:232px;width:70px;top:640px">24</div>
<div class="a" style="left:1px;top:628px;width:9px;height:40px;background:#a9d1f6"></div>
<div class="c" style="left:304px;top:669px;width:78px;height:40px;background:#a3d0ef"><div class="in"><span class="n"><svg class="o" width="10.01" height="12.89" viewBox="0 0 10 12.9" preserveAspectRatio="none"><path d="M6.35 0V12.9H4.75V2.5L2.3 4.6L1.3 3.2L4.9 0Z" fill="currentColor"/></svg></span></div></div>
<div class="c" style="left:383px;top:669px;width:78px;height:40px;background:#a3d0ef"><div class="in"><span class="n"><svg class="o" width="10.01" height="12.89" viewBox="0 0 10 12.9" preserveAspectRatio="none"><path d="M6.35 0V12.9H4.75V2.5L2.3 4.6L1.3 3.2L4.9 0Z" fill="currentColor"/></svg></span></div></div>
<div class="c" style="left:462px;top:669px;width:78px;height:40px;background:#a3d0ef"><div class="in"><span class="n"><svg class="o" width="10.01" height="12.89" viewBox="0 0 10 12.9" preserveAspectRatio="none"><path d="M6.35 0V12.9H4.75V2.5L2.3 4.6L1.3 3.2L4.9 0Z" fill="currentColor"/></svg></span></div></div>
<div class="c" style="left:541px;top:669px;width:78px;height:40px;background:#a3d0ef"><div class="in"><span class="n"><svg class="o" width="10.01" height="12.89" viewBox="0 0 10 12.9" preserveAspectRatio="none"><path d="M6.35 0V12.9H4.75V2.5L2.3 4.6L1.3 3.2L4.9 0Z" fill="currentColor"/></svg></span></div></div>
<div class="c" style="left:620px;top:669px;width:78px;height:40px;background:#a3d0ef"><div class="in"><span class="n"><svg class="o" width="10.01" height="12.89" viewBox="0 0 10 12.9" preserveAspectRatio="none"><path d="M6.35 0V12.9H4.75V2.5L2.3 4.6L1.3 3.2L4.9 0Z" fill="currentColor"/></svg></span><span class="s up"><i class="tu"></i><svg class="o" width="5.56" height="7.16" viewBox="0 0 10 12.9" preserveAspectRatio="none"><path d="M6.35 0V12.9H4.75V2.5L2.3 4.6L1.3 3.2L4.9 0Z" fill="currentColor"/></svg></span></div></div>
<div class="c" style="left:699px;top:669px;width:78px;height:40px;background:#b3d9f0"><div class="in"><span class="n">2</span><span class="s up"><i class="tu"></i>4</span></div></div>
<div class="c" style="left:778px;top:669px;width:78px;height:40px;background:#a3e8c2"><div class="in"><span class="n">6</span></div></div>
<div class="q" style="top:683.5px">лучшие курсы видеомонтажа</div>
<div class="f" style="left:232px;width:70px;top:681px">56</div>
<div class="a" style="left:1px;top:669px;width:9px;height:40px;background:#a9d1f6"></div>
<div class="c" style="left:304px;top:710px;width:78px;height:40px;background:#a3d0ef"><div class="in"><span class="n"><svg class="o" width="10.01" height="12.89" viewBox="0 0 10 12.9" preserveAspectRatio="none"><path d="M6.35 0V12.9H4.75V2.5L2.3 4.6L1.3 3.2L4.9 0Z" fill="currentColor"/></svg></span></div></div>
<div class="c" style="left:383px;top:710px;width:78px;height:40px;background:#a3d0ef"><div class="in"><span class="n"><svg class="o" width="10.01" height="12.89" viewBox="0 0 10 12.9" preserveAspectRatio="none"><path d="M6.35 0V12.9H4.75V2.5L2.3 4.6L1.3 3.2L4.9 0Z" fill="currentColor"/></svg></span></div></div>
<div class="c" style="left:462px;top:710px;width:78px;height:40px;background:#a3d0ef"><div class="in"><span class="n"><svg class="o" width="10.01" height="12.89" viewBox="0 0 10 12.9" preserveAspectRatio="none"><path d="M6.35 0V12.9H4.75V2.5L2.3 4.6L1.3 3.2L4.9 0Z" fill="currentColor"/></svg></span></div></div>
<div class="c" style="left:541px;top:710px;width:78px;height:40px;background:#a3d0ef"><div class="in"><span class="n"><svg class="o" width="10.01" height="12.89" viewBox="0 0 10 12.9" preserveAspectRatio="none"><path d="M6.35 0V12.9H4.75V2.5L2.3 4.6L1.3 3.2L4.9 0Z" fill="currentColor"/></svg></span><span class="s up"><i class="tu"></i>6</span></div><span class="tri"></span></div>
<div class="c" style="left:620px;top:710px;width:78px;height:40px;background:#ade9c8"><div class="in"><span class="n">7</span><span class="s up"><i class="tu"></i>3</span></div><span class="tri"></span></div>
<div class="c" style="left:699px;top:710px;width:78px;height:40px;background:#c8f0dc"><div class="in"><span class="n"><svg class="o" width="10.01" height="12.89" viewBox="0 0 10 12.9" preserveAspectRatio="none"><path d="M6.35 0V12.9H4.75V2.5L2.3 4.6L1.3 3.2L4.9 0Z" fill="currentColor"/></svg>0</span><span class="s up"><i class="tu"></i>5</span></div></div>
<div class="c" style="left:778px;top:710px;width:78px;height:40px;background:#ffffff"><div class="in"><span class="n"><svg class="o" width="10.01" height="12.89" viewBox="0 0 10 12.9" preserveAspectRatio="none"><path d="M6.35 0V12.9H4.75V2.5L2.3 4.6L1.3 3.2L4.9 0Z" fill="currentColor"/></svg>5</span></div></div>
<div class="q" style="top:724.5px">курс монтажа для начинающих</div>
<div class="f" style="left:232px;width:70px;top:722px">40</div>
<div class="a" style="left:1px;top:710px;width:9px;height:40px;background:#a9d1f6"></div>
<div class="hl" style="left:0;top:52px;width:857px;height:1px"></div>
<div class="hl" style="left:0;top:93px;width:857px;height:2px"></div>
<div class="hl" style="left:0;top:135px;width:857px;height:1px"></div>
<div class="hl" style="left:0;top:176px;width:857px;height:1px"></div>
<div class="hl" style="left:0;top:217px;width:857px;height:1px"></div>
<div class="hl" style="left:0;top:258px;width:857px;height:1px"></div>
<div class="hl" style="left:0;top:299px;width:857px;height:1px"></div>
<div class="hl" style="left:0;top:340px;width:857px;height:1px"></div>
<div class="hl" style="left:0;top:381px;width:857px;height:1px"></div>
<div class="hl" style="left:0;top:422px;width:857px;height:1px"></div>
<div class="hl" style="left:0;top:463px;width:857px;height:1px"></div>
<div class="hl" style="left:0;top:504px;width:857px;height:1px"></div>
<div class="hl" style="left:0;top:545px;width:857px;height:1px"></div>
<div class="hl" style="left:0;top:586px;width:857px;height:1px"></div>
<div class="hl" style="left:0;top:627px;width:857px;height:1px"></div>
<div class="hl" style="left:0;top:668px;width:857px;height:1px"></div>
<div class="hl" style="left:0;top:709px;width:857px;height:1px"></div>
<div class="a" style="left:0;top:749px;width:857px;height:1px;background:rgba(140,150,160,0.55)"></div>
<div class="hl" style="left:0;top:52px;width:1px;height:698px"></div>
<div class="hl" style="left:231px;top:52px;width:1px;height:698px"></div>
<div class="hl" style="left:302px;top:51px;width:2px;height:699px"></div>
<div class="hl" style="left:382px;top:52px;width:1px;height:698px"></div>
<div class="hl" style="left:461px;top:52px;width:1px;height:698px"></div>
<div class="hl" style="left:540px;top:52px;width:1px;height:698px"></div>
<div class="hl" style="left:619px;top:52px;width:1px;height:698px"></div>
<div class="hl" style="left:698px;top:52px;width:1px;height:698px"></div>
<div class="hl" style="left:777px;top:52px;width:1px;height:698px"></div>
<div class="hl" style="left:856px;top:52px;width:1px;height:698px"></div>
<div class="a" style="left:11px;top:61.7px;font-size:17px;line-height:20px;color:#37475a;-webkit-text-stroke:0.3px #37475a;letter-spacing:0.45px">Запросы</div>
<svg class="a" style="left:88px;top:62px" width="16" height="16" viewBox="0 0 16 16"><circle cx="9" cy="7" r="4.1" fill="none" stroke="#979b9f" stroke-width="1.8"/><line x1="6" y1="10" x2="2.8" y2="13.2" stroke="#979b9f" stroke-width="2" stroke-linecap="round"/></svg>
<div class="a" style="left:232px;top:56px;width:70px;text-align:center;font-size:12px;line-height:14px;color:#454c54;letter-spacing:0.35px;text-indent:0.35px">Частота</div>
<svg class="a" style="left:260px;top:77px" width="14" height="14" viewBox="0 0 14 14"><circle cx="7" cy="7" r="6.3" fill="#e9e9e9" stroke="#d6d6d6" stroke-width="1"/><path d="M2.5 4.5C4 4 5 5 4.6 6.4S5.8 8.4 6.6 9.6 6.2 12 5.6 12.8" fill="none" stroke="#fafafa" stroke-width="1.5"/><path d="M7.5 1.6C7.6 3 9 3.4 10 3.9S11.3 5.8 10.4 6.8 8.6 7.8 8.4 9.2" fill="none" stroke="#fafafa" stroke-width="1.5"/></svg>
<div class="dh" style="left:304px;width:78px;"><span class="du">22.<svg class="o" width="7.78" height="10.02" viewBox="0 0 10 12.9" preserveAspectRatio="none"><path d="M6.35 0V12.9H4.75V2.5L2.3 4.6L1.3 3.2L4.9 0Z" fill="currentColor"/></svg>2.202<svg class="o" width="7.78" height="10.02" viewBox="0 0 10 12.9" preserveAspectRatio="none"><path d="M6.35 0V12.9H4.75V2.5L2.3 4.6L1.3 3.2L4.9 0Z" fill="currentColor"/></svg></span></div>
<div class="pc" style="left:327px;top:77px"><svg width="14" height="14" viewBox="0 0 14 14" style="position:absolute;left:0;top:0"><circle cx="3.9" cy="4.8" r="1.7" fill="none" stroke="#f2f2f2" stroke-width="1.3"/><circle cx="9.8" cy="9.3" r="1.7" fill="none" stroke="#f2f2f2" stroke-width="1.3"/><line x1="10.2" y1="3.6" x2="3.4" y2="10.2" stroke="#f2f2f2" stroke-width="1.2"/></svg></div>
<div class="ps" style="left:341px;top:72px">74</div>
<div class="dh" style="left:383px;width:78px;"><span class="">30.<svg class="o" width="7.78" height="10.02" viewBox="0 0 10 12.9" preserveAspectRatio="none"><path d="M6.35 0V12.9H4.75V2.5L2.3 4.6L1.3 3.2L4.9 0Z" fill="currentColor"/></svg><svg class="o" width="7.78" height="10.02" viewBox="0 0 10 12.9" preserveAspectRatio="none"><path d="M6.35 0V12.9H4.75V2.5L2.3 4.6L1.3 3.2L4.9 0Z" fill="currentColor"/></svg>.202<svg class="o" width="7.78" height="10.02" viewBox="0 0 10 12.9" preserveAspectRatio="none"><path d="M6.35 0V12.9H4.75V2.5L2.3 4.6L1.3 3.2L4.9 0Z" fill="currentColor"/></svg></span></div>
<div class="pc" style="left:406px;top:77px"><svg width="14" height="14" viewBox="0 0 14 14" style="position:absolute;left:0;top:0"><circle cx="3.9" cy="4.8" r="1.7" fill="none" stroke="#f2f2f2" stroke-width="1.3"/><circle cx="9.8" cy="9.3" r="1.7" fill="none" stroke="#f2f2f2" stroke-width="1.3"/><line x1="10.2" y1="3.6" x2="3.4" y2="10.2" stroke="#f2f2f2" stroke-width="1.2"/></svg></div>
<div class="ps" style="left:420px;top:72px">79</div>
<div class="dh" style="left:462px;width:78px;"><span class="">29.<svg class="o" width="7.78" height="10.02" viewBox="0 0 10 12.9" preserveAspectRatio="none"><path d="M6.35 0V12.9H4.75V2.5L2.3 4.6L1.3 3.2L4.9 0Z" fill="currentColor"/></svg>0.202<svg class="o" width="7.78" height="10.02" viewBox="0 0 10 12.9" preserveAspectRatio="none"><path d="M6.35 0V12.9H4.75V2.5L2.3 4.6L1.3 3.2L4.9 0Z" fill="currentColor"/></svg></span></div>
<div class="pc" style="left:485px;top:77px"><svg width="14" height="14" viewBox="0 0 14 14" style="position:absolute;left:0;top:0"><circle cx="3.9" cy="4.8" r="1.7" fill="none" stroke="#f2f2f2" stroke-width="1.3"/><circle cx="9.8" cy="9.3" r="1.7" fill="none" stroke="#f2f2f2" stroke-width="1.3"/><line x1="10.2" y1="3.6" x2="3.4" y2="10.2" stroke="#f2f2f2" stroke-width="1.2"/></svg></div>
<div class="ps" style="left:499px;top:72px">80</div>
<div class="dh" style="left:541px;width:78px;"><span class="">30.09.202<svg class="o" width="7.78" height="10.02" viewBox="0 0 10 12.9" preserveAspectRatio="none"><path d="M6.35 0V12.9H4.75V2.5L2.3 4.6L1.3 3.2L4.9 0Z" fill="currentColor"/></svg></span></div>
<div class="pc" style="left:564px;top:77px"><svg width="14" height="14" viewBox="0 0 14 14" style="position:absolute;left:0;top:0"><circle cx="3.9" cy="4.8" r="1.7" fill="none" stroke="#f2f2f2" stroke-width="1.3"/><circle cx="9.8" cy="9.3" r="1.7" fill="none" stroke="#f2f2f2" stroke-width="1.3"/><line x1="10.2" y1="3.6" x2="3.4" y2="10.2" stroke="#f2f2f2" stroke-width="1.2"/></svg></div>
<div class="ps" style="left:578px;top:72px">77</div>
<div class="dh" style="left:620px;width:78px;"><span class="">3<svg class="o" width="7.78" height="10.02" viewBox="0 0 10 12.9" preserveAspectRatio="none"><path d="M6.35 0V12.9H4.75V2.5L2.3 4.6L1.3 3.2L4.9 0Z" fill="currentColor"/></svg>.08.202<svg class="o" width="7.78" height="10.02" viewBox="0 0 10 12.9" preserveAspectRatio="none"><path d="M6.35 0V12.9H4.75V2.5L2.3 4.6L1.3 3.2L4.9 0Z" fill="currentColor"/></svg></span></div>
<div class="pc" style="left:643px;top:77px"><svg width="14" height="14" viewBox="0 0 14 14" style="position:absolute;left:0;top:0"><circle cx="3.9" cy="4.8" r="1.7" fill="none" stroke="#f2f2f2" stroke-width="1.3"/><circle cx="9.8" cy="9.3" r="1.7" fill="none" stroke="#f2f2f2" stroke-width="1.3"/><line x1="10.2" y1="3.6" x2="3.4" y2="10.2" stroke="#f2f2f2" stroke-width="1.2"/></svg></div>
<div class="ps" style="left:657px;top:72px">69</div>
<div class="dh" style="left:699px;width:78px;"><span class="">30.07.202<svg class="o" width="7.78" height="10.02" viewBox="0 0 10 12.9" preserveAspectRatio="none"><path d="M6.35 0V12.9H4.75V2.5L2.3 4.6L1.3 3.2L4.9 0Z" fill="currentColor"/></svg></span></div>
<div class="pc" style="left:722px;top:77px"><svg width="14" height="14" viewBox="0 0 14 14" style="position:absolute;left:0;top:0"><circle cx="3.9" cy="4.8" r="1.7" fill="none" stroke="#f2f2f2" stroke-width="1.3"/><circle cx="9.8" cy="9.3" r="1.7" fill="none" stroke="#f2f2f2" stroke-width="1.3"/><line x1="10.2" y1="3.6" x2="3.4" y2="10.2" stroke="#f2f2f2" stroke-width="1.2"/></svg></div>
<div class="ps" style="left:736px;top:72px">45</div>
<div class="dh" style="left:778px;width:78px;"><span class="">30.06.202<svg class="o" width="7.78" height="10.02" viewBox="0 0 10 12.9" preserveAspectRatio="none"><path d="M6.35 0V12.9H4.75V2.5L2.3 4.6L1.3 3.2L4.9 0Z" fill="currentColor"/></svg></span></div>
<div class="pc" style="left:801px;top:77px"><svg width="14" height="14" viewBox="0 0 14 14" style="position:absolute;left:0;top:0"><circle cx="3.9" cy="4.8" r="1.7" fill="none" stroke="#f2f2f2" stroke-width="1.3"/><circle cx="9.8" cy="9.3" r="1.7" fill="none" stroke="#f2f2f2" stroke-width="1.3"/><line x1="10.2" y1="3.6" x2="3.4" y2="10.2" stroke="#f2f2f2" stroke-width="1.2"/></svg></div>
<div class="ps" style="left:815px;top:72px"><svg class="o" width="6.67" height="8.59" viewBox="0 0 10 12.9" preserveAspectRatio="none"><path d="M6.35 0V12.9H4.75V2.5L2.3 4.6L1.3 3.2L4.9 0Z" fill="currentColor"/></svg>4</div>
</div></body></html>
